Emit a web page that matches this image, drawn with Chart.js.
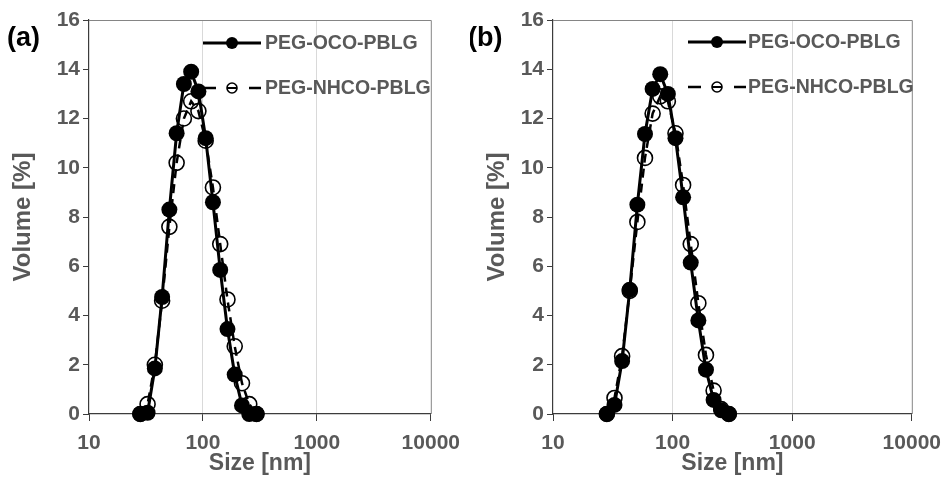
<!DOCTYPE html>
<html>
<head>
<meta charset="utf-8">
<script src="https://cdn.jsdelivr.net/npm/chart.js@4/dist/chart.umd.min.js"></script>
<style>
  html, body { margin: 0; padding: 0; background: #fff; }
  #wrap { position: relative; width: 951px; height: 477px; overflow: hidden; }
  canvas { position: absolute; top: 0; }
  #ca { left: 0; }
  #cb { left: 470px; }
</style>
</head>
<body>
<div id="wrap">
  <canvas id="ca" width="470" height="477"></canvas>
  <canvas id="cb" width="481" height="477"></canvas>
</div>
<script>
// Particle size bins (nm) shared by all distributions
const sizes = [28.21, 32.67, 37.84, 43.82, 50.75, 58.77, 68.06, 78.82, 91.28, 105.7, 122.4, 141.8, 164.2, 190.1, 220.2, 255.0, 295.3];

// Panel (a) volume distributions (%)
const ocoA  = [0, 0.05, 1.85, 4.75, 8.3, 11.4, 13.4, 13.9, 13.1, 11.2, 8.6, 5.85, 3.45, 1.6, 0.35, 0, 0];
const nhcoA = [0, 0.4, 2.0, 4.6, 7.6, 10.2, 12.0, 12.7, 12.3, 11.1, 9.2, 6.9, 4.65, 2.75, 1.25, 0.4, 0];

// Panel (b) volume distributions (%)
const ocoB  = [0, 0.37, 2.15, 5.05, 8.5, 11.37, 13.2, 13.8, 13.0, 11.2, 8.8, 6.15, 3.8, 1.8, 0.57, 0.15, 0];
const nhcoB = [0, 0.65, 2.35, 5.0, 7.8, 10.4, 12.2, 12.9, 12.7, 11.4, 9.3, 6.9, 4.5, 2.4, 0.95, 0.2, 0];

const seriesNames = ['PEG-OCO-PBLG', 'PEG-NHCO-PBLG'];
const xTicks = [10, 100, 1000, 10000];
const yTicks = [0, 2, 4, 6, 8, 10, 12, 14, 16];

const FONT = "'Liberation Sans', Arial, sans-serif";
const GREY = '#595959';
const AXIS = '#3c3c3c';

function pts(vals) { return sizes.map((s, i) => ({ x: s, y: vals[i] })); }

// Frame (top/right edges), panel letter and line+marker legend
const decor = {
  id: 'decor',
  afterDraw(chart, args, o) {
    const { ctx, chartArea: a } = chart;
    ctx.save();
    ctx.strokeStyle = '#858585';
    ctx.lineWidth = 1;
    ctx.beginPath();
    ctx.moveTo(a.left, a.top + 0.5);
    ctx.lineTo(a.right + 0.5, a.top + 0.5);
    ctx.lineTo(a.right + 0.5, a.bottom);
    ctx.stroke();

    // panel letter
    ctx.fillStyle = '#000';
    ctx.font = "bold 27px " + FONT;
    ctx.textBaseline = 'alphabetic';
    ctx.textAlign = 'left';
    ctx.fillText(o.letter, o.lx, o.ly);

    // legend row 1: solid line with filled marker
    const x1 = o.gx, x2 = o.gx + 58, mx = o.gx + 29;
    ctx.strokeStyle = '#000';
    ctx.lineWidth = 3;
    ctx.beginPath();
    ctx.moveTo(x1, o.gy1); ctx.lineTo(x2, o.gy1);
    ctx.stroke();
    ctx.fillStyle = '#000';
    ctx.beginPath();
    ctx.arc(mx, o.gy1, 6, 0, Math.PI * 2);
    ctx.fill();

    // legend row 2: dashed line with open marker
    ctx.lineWidth = 2.5;
    ctx.beginPath();
    ctx.moveTo(x1, o.gy2); ctx.lineTo(x1 + 13, o.gy2);
    ctx.moveTo(x2 - 12, o.gy2); ctx.lineTo(x2, o.gy2);
    ctx.stroke();
    ctx.lineWidth = 1.6;
    ctx.beginPath();
    ctx.arc(mx, o.gy2, 5, 0, Math.PI * 2);
    ctx.stroke();
    ctx.lineWidth = 2;
    ctx.beginPath();
    ctx.moveTo(mx - 5, o.gy2); ctx.lineTo(mx + 5, o.gy2);
    ctx.stroke();

    ctx.fillStyle = GREY;
    ctx.font = "bold 19.5px " + FONT;
    ctx.textBaseline = 'middle';
    ctx.fillText(seriesNames[0], o.tx, o.gy1 + 1);
    ctx.fillText(seriesNames[1], o.tx, o.gy2 + 1);
    ctx.restore();
  }
};

function makeChart(id, oco, nhco, cfg) {
  return new Chart(document.getElementById(id), {
    type: 'scatter',
    data: {
      datasets: [
        {
          label: seriesNames[0],
          data: pts(oco),
          showLine: true,
          borderColor: '#000',
          borderWidth: 3,
          pointRadius: 8,
          pointHoverRadius: 8,
          pointBackgroundColor: '#000',
          pointBorderColor: '#000',
          pointBorderWidth: 0,
          clip: false,
          order: 2
        },
        {
          label: seriesNames[1],
          data: pts(nhco),
          showLine: true,
          borderColor: '#000',
          borderWidth: 2.5,
          borderDash: [9, 6],
          pointRadius: 7.5,
          pointHoverRadius: 7.5,
          pointBackgroundColor: 'rgba(0,0,0,0)',
          pointBorderColor: '#000',
          pointBorderWidth: 1.6,
          clip: false,
          order: 1
        }
      ]
    },
    options: {
      responsive: false,
      animation: false,
      devicePixelRatio: 1,
      layout: { padding: { top: 20, right: cfg.padRight, bottom: 0, left: 0 } },
      plugins: {
        legend: { display: false },
        tooltip: { enabled: false },
        decor: cfg.decor
      },
      scales: {
        x: {
          type: 'logarithmic',
          min: 10,
          max: 10000,
          afterBuildTicks(scale) { scale.ticks = xTicks.map(v => ({ value: v })); },
          afterFit(scale) { scale.height = 63; },
          ticks: {
            callback: v => String(v),
            font: { family: FONT, size: 21, weight: 'bold' },
            color: GREY,
            padding: 10,
            maxRotation: 0,
            autoSkip: false
          },
          grid: {
            color: c => (c.tick && (c.tick.value === 100 || c.tick.value === 1000)) ? '#d9d9d9' : 'rgba(0,0,0,0)',
            tickColor: AXIS,
            tickLength: 7,
            lineWidth: 1
          },
          border: { color: AXIS, width: 1.2 },
          title: {
            display: true,
            text: 'Size [nm]',
            color: GREY,
            font: { family: FONT, size: 23, weight: 'bold' },
            padding: { top: 0, bottom: 0 }
          }
        },
        y: {
          min: 0,
          max: 16,
          afterBuildTicks(scale) { scale.ticks = yTicks.map(v => ({ value: v })); },
          afterFit(scale) { scale.width = cfg.yWidth; },
          ticks: {
            font: { family: FONT, size: 21, weight: 'bold' },
            color: GREY,
            padding: 3
          },
          grid: {
            drawOnChartArea: false,
            tickColor: AXIS,
            tickLength: 6
          },
          border: { color: AXIS, width: 1.2 },
          title: {
            display: true,
            text: 'Volume [%]',
            color: GREY,
            font: { family: FONT, size: 24, weight: 'bold' },
            padding: { top: cfg.titlePad, bottom: 0 }
          }
        }
      }
    },
    plugins: [decor]
  });
}

makeChart('ca', ocoA, nhcoA, {
  padRight: 38, yWidth: 89, titlePad: 9,
  decor: { letter: '(a)', lx: 7, ly: 46, gx: 203, gy1: 43, gy2: 88, tx: 265 }
});
makeChart('cb', ocoB, nhcoB, {
  padRight: 33, yWidth: 83, titlePad: 13,
  decor: { letter: '(b)', lx: -2, ly: 46, gx: 218, gy1: 42, gy2: 87, tx: 278 }
});
</script>
</body>
</html>
